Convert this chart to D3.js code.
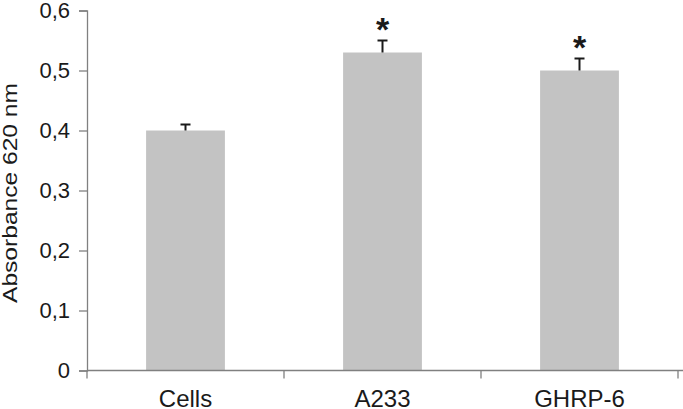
<!doctype html>
<html>
<head>
<meta charset="utf-8">
<script src="https://d3js.org/d3.v7.min.js"></script>
<style>
  body { margin: 0; background: #fff; }
  svg text { font-family: "Liberation Sans", Arial, sans-serif; fill: #1a1a1a; }
</style>
</head>
<body>
<script>
// chart data
var categories = ["Cells", "A233", "GHRP-6"];
var means = [0.40, 0.53, 0.50];
var errors = [0.01, 0.02, 0.02];
var significant = [false, true, true];
var yTicks = [0, 0.1, 0.2, 0.3, 0.4, 0.5, 0.6];

var width = 683, height = 409;
var margin = {top: 10.5, right: 6, bottom: 38.5, left: 87};

var svg = d3.select("body").append("svg")
    .attr("width", width)
    .attr("height", height);

var x = d3.scaleBand()
    .domain(categories)
    .range([margin.left, 678])
    .paddingInner(0.6)
    .paddingOuter(0.3);

// band edges for tick marks between categories
var xBand = d3.scaleBand()
    .domain(categories)
    .range([margin.left, 678]);

var y = d3.scaleLinear()
    .domain([0, 0.6])
    .range([height - margin.bottom, margin.top]);

var fmt = function(d) { return d === 0 ? "0" : d3.format(".1f")(d).replace(".", ","); };

// y axis
var yAxis = svg.append("g")
    .attr("transform", "translate(" + margin.left + ",0)")
    .call(d3.axisLeft(y).tickValues(yTicks).tickFormat(fmt).tickSize(8).tickPadding(9));
yAxis.select(".domain").attr("stroke", "#808080").attr("stroke-width", 1.3);
yAxis.selectAll(".tick line").attr("stroke", "#808080").attr("stroke-width", 1.3);
yAxis.selectAll(".tick text").style("font-size", "22px").attr("fill", "#1a1a1a");

// bars
svg.selectAll(".bar")
    .data(categories)
    .enter().append("rect")
    .attr("class", "bar")
    .attr("x", function(d) { return x(d); })
    .attr("width", x.bandwidth())
    .attr("y", function(d, i) { return y(means[i]); })
    .attr("height", function(d, i) { return y(0) - y(means[i]); })
    .attr("fill", "#c3c3c3");

// x axis
var x0 = y(0);
svg.append("line")
    .attr("x1", margin.left).attr("x2", width)
    .attr("y1", x0).attr("y2", x0)
    .attr("stroke", "#808080").attr("stroke-width", 1.3);

var bandEdges = [margin.left].concat(categories.map(function(d) { return xBand(d) + xBand.bandwidth(); }));
svg.selectAll(".xtick")
    .data(bandEdges)
    .enter().append("line")
    .attr("x1", function(d) { return d; }).attr("x2", function(d) { return d; })
    .attr("y1", x0).attr("y2", x0 + 8)
    .attr("stroke", "#808080").attr("stroke-width", 1.3);

svg.selectAll(".xlabel")
    .data(categories)
    .enter().append("text")
    .attr("x", function(d) { return xBand(d) + xBand.bandwidth() / 2; })
    .attr("y", x0 + 36)
    .attr("text-anchor", "middle")
    .style("font-size", "24px")
    .text(function(d) { return d; });

// error bars
var err = svg.selectAll(".err")
    .data(categories)
    .enter().append("g")
    .attr("class", "err");

err.append("line")
    .attr("x1", function(d) { return x(d) + x.bandwidth() / 2; })
    .attr("x2", function(d) { return x(d) + x.bandwidth() / 2; })
    .attr("y1", function(d, i) { return y(means[i]); })
    .attr("y2", function(d, i) { return y(means[i] + errors[i]); })
    .attr("stroke", "#1a1a1a").attr("stroke-width", 2);

err.append("line")
    .attr("x1", function(d) { return x(d) + x.bandwidth() / 2 - 5; })
    .attr("x2", function(d) { return x(d) + x.bandwidth() / 2 + 5; })
    .attr("y1", function(d, i) { return y(means[i] + errors[i]); })
    .attr("y2", function(d, i) { return y(means[i] + errors[i]); })
    .attr("stroke", "#1a1a1a").attr("stroke-width", 2);

// significance stars
svg.selectAll(".star")
    .data(categories.filter(function(d, i) { return significant[i]; }))
    .enter().append("text")
    .attr("x", function(d) { return x(d) + x.bandwidth() / 2; })
    .attr("y", function(d) {
        var i = categories.indexOf(d);
        return y(means[i] + errors[i]);
    })
    .attr("text-anchor", "middle")
    .style("font-size", "34px")
    .style("font-weight", "bold")
    .attr("fill", "#000")
    .text("*");

// y axis title
svg.append("text")
    .attr("transform", "translate(17,193) rotate(-90)")
    .attr("text-anchor", "middle")
    .attr("textLength", 220)
    .attr("lengthAdjust", "spacingAndGlyphs")
    .style("font-size", "20px")
    .text("Absorbance 620 nm");
</script>
</body>
</html>
